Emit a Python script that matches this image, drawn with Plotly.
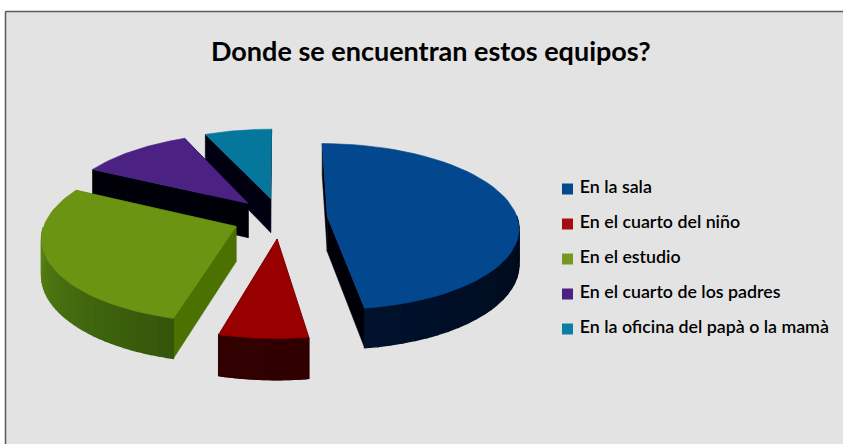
import math
import plotly.graph_objects as go

# Share of answers per location
categories = ["En la sala", "En el cuarto del niño", "En el estudio",
              "En el cuarto de los padres", "En la oficina del papà o la mamà"]
values = [47.7, 6.5, 28.3, 11, 6.5]
top_colors = ["#03478f", "#980000", "#6a9412", "#4b2283", "#05779d"]
legend_colors = ["#03478f", "#a40d0d", "#76981e", "#4b2283", "#0c7ea6"]
# Cut-face colour and the two ends of the rim shading
cut_colors = ["#000008", "#2a0000", "#4b7200", "#000008", "#000010"]
rim_start = ["#000000", "#300000", "#34560a", "#000000", "#000000"]
rim_end = ["#00122e", "#330000", "#659518", "#000000", "#000000"]
explode = [0.25, 0.25, 0.25, 0.25, 0.25]

TITLE = "Donde se encuentran estos equipos?"
FONT = "Lato, 'Open Sans', sans-serif"

# Pie projection: centre, semi-axes, extrusion depth and perspective strength
CX, CY = 280, 218
RX, RY = 190, 82
DEPTH = 35
PERSPECTIVE = 0.12

# Legend placement in page pixels
LEGEND_X = 567.5
LEGEND_TOP = 189
LEGEND_STEP = 35


def project(u, v):
    """Ground-plane point to page pixels; v grows towards the back of the pie."""
    p = 1 / (1 + PERSPECTIVE * v)
    return CX + RX * u * p, CY - RY * v * p, DEPTH * p


def hex_mix(a, b, t):
    ca = [int(a[i:i + 2], 16) for i in (1, 3, 5)]
    cb = [int(b[i:i + 2], 16) for i in (1, 3, 5)]
    return "#" + "".join(f"{round(x + (y - x) * t):02x}" for x, y in zip(ca, cb))


def poly(fig, pts, color, width=0.6):
    xs = [p[0] for p in pts] + [pts[0][0]]
    ys = [p[1] for p in pts] + [pts[0][1]]
    fig.add_trace(go.Scatter(x=xs, y=ys, mode="lines", fill="toself", fillcolor=color,
                             line=dict(color=color, width=width), hoverinfo="skip",
                             showlegend=False))


def wall(a, b):
    return [a[:2], b[:2], (b[0], b[1] + b[2]), (a[0], a[1] + a[2])]


def wedge(fig, i, start, end):
    mid = (start + end) / 2
    ou, ov = explode[i] * math.sin(mid), explode[i] * math.cos(mid)
    apex = project(ou, ov)
    steps = 48
    thetas = [start + (end - start) * k / steps for k in range(steps + 1)]
    arc = [project(ou + math.sin(t), ov + math.cos(t)) for t in thetas]

    # Cut faces first, the rim over them, the top face last
    poly(fig, wall(apex, arc[0]), cut_colors[i])
    poly(fig, wall(apex, arc[-1]), cut_colors[i])
    for k in range(steps):
        t = (thetas[k] + thetas[k + 1]) / 2
        if math.pi / 2 < t < 1.5 * math.pi:
            shade = hex_mix(rim_start[i], rim_end[i], k / steps)
            poly(fig, wall(arc[k], arc[k + 1]), shade, width=1.4)
    poly(fig, [apex[:2]] + [p[:2] for p in arc], top_colors[i])


fig = go.Figure()

# Slice angles run clockwise from twelve o'clock
total = sum(values)
angles = []
cursor = 0.0
for v in values:
    angles.append((cursor, cursor + 2 * math.pi * v / total))
    cursor = angles[-1][1]

# Painted from the back of the pie to the front
for i in (4, 3, 2, 0, 1):
    wedge(fig, i, *angles[i])

# Legend: a square key and its label per category
for n, (name, color) in enumerate(zip(categories, legend_colors)):
    fig.add_trace(go.Scatter(
        x=[LEGEND_X], y=[LEGEND_TOP + n * LEGEND_STEP], mode="markers+text", name=name,
        text=[" " + name], textposition="middle right", hoverinfo="name", showlegend=False,
        marker=dict(symbol="square", size=11, color=color),
        textfont=dict(family=FONT, size=17.8, color="#000000", weight=600)))

fig.update_layout(
    width=843, height=444,
    margin=dict(l=0, r=0, t=0, b=0),
    paper_bgcolor="#ffffff",
    plot_bgcolor="#e3e3e3",
    showlegend=False,
    xaxis=dict(range=[0, 843], visible=False, fixedrange=True),
    yaxis=dict(range=[444, 0], visible=False, fixedrange=True),
    shapes=[
        dict(type="rect", xref="x", yref="y", x0=0, x1=843, y0=0, y1=11,
             fillcolor="#ffffff", line_width=0, layer="below"),
        dict(type="rect", xref="x", yref="y", x0=0, x1=5.5, y0=0, y1=444,
             fillcolor="#ffffff", line_width=0, layer="below"),
        dict(type="line", xref="x", yref="y", x0=5.5, x1=843, y0=11.5, y1=11.5,
             line=dict(color="#5a5a5a", width=1.5)),
        dict(type="line", xref="x", yref="y", x0=5.5, x1=5.5, y0=11.5, y1=444,
             line=dict(color="#5a5a5a", width=1.5)),
    ],
    annotations=[dict(text=TITLE, xref="x", yref="y", x=431, y=50, showarrow=False,
                      font=dict(family=FONT, size=27, color="#000000", weight=700))],
)

fig.write_html("out.html")
